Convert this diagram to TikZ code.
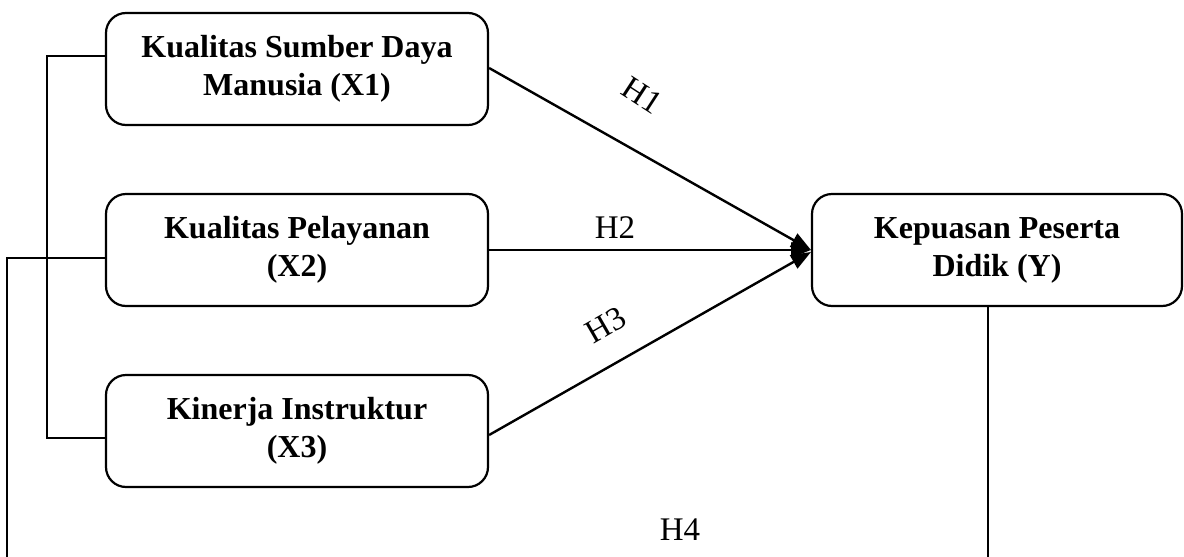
\documentclass[tikz,border=0pt]{standalone}
\usepackage{fontspec}
\setmainfont{Liberation Serif}
\usetikzlibrary{arrows.meta,calc}
\begin{document}
\begin{tikzpicture}[x=1pt,y=-1pt,
  varbox/.style={draw, line width=2.2pt, rounded corners=20pt, minimum width=382pt, minimum height=112pt, align=center, font=\fontsize{32}{38}\selectfont\bfseries, inner sep=0pt},
  arr/.style={line width=2.4pt, -{Triangle[length=20pt,width=15pt]}},
  thin/.style={line width=1.3pt},
  hlab/.style={font=\fontsize{33}{36}\selectfont}]
\useasboundingbox (0,0) rectangle (1184,557);
\node[varbox] (X1) at (297,69) {Kualitas Sumber Daya\\Manusia (X1)};
\node[varbox] (X2) at (297,250) {Kualitas Pelayanan\\(X2)};
\node[varbox] (X3) at (297,431) {Kinerja Instruktur\\(X3)};
\node[varbox, minimum width=370pt] (Y) at (997,250) {Kepuasan Peserta\\Didik (Y)};
% brackets
\coordinate (b1) at (47,56);
\coordinate (b3) at (47,438);
\draw[thin] (X1.west |- b1) -- (b1) -- (b3) -- (X3.west |- b3);
\coordinate (c2) at (7,258);
\coordinate (c2b) at (7,557);
\draw[thin] (X2.west |- c2) -- (c2) -- (c2b);
\coordinate (yb) at (988,557);
\draw[thin] (Y.south -| yb) -- (yb);
% arrows
\coordinate (t1) at (811,250);
\draw[arr] ($(X1.east)+(0,-1)$) -- (t1);
\draw[arr] (X2.east) -- (t1);
\draw[arr] ($(X3.east)+(0,4)$) -- ($(t1)+(0,2)$);
% labels
\node[hlab, rotate=-33] (h1) at (642,95) {H1};
\node[hlab] (h2) at (615,228) {H2};
\node[hlab, rotate=30] (h3) at (606,325) {H3};
\node[hlab] (h4) at (680,530) {H4};
\end{tikzpicture}
\end{document}
